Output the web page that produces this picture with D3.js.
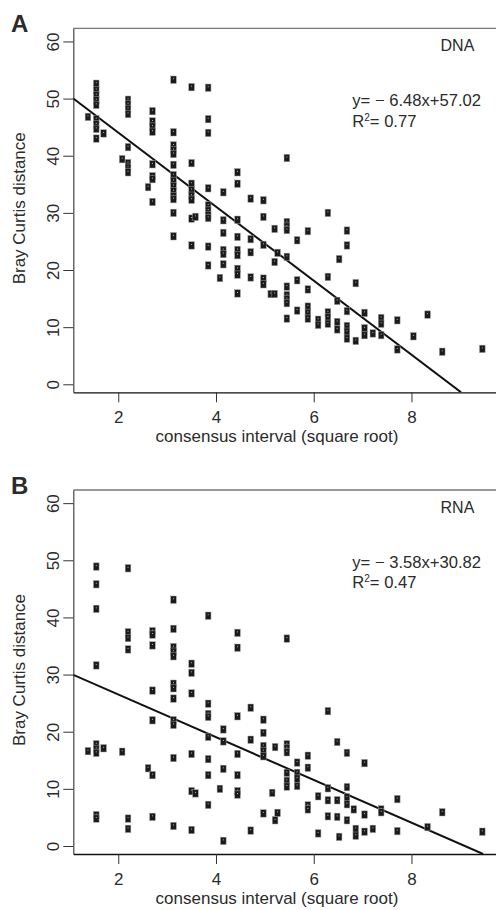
<!DOCTYPE html>
<html>
<head>
<meta charset="utf-8">
<script src="https://cdn.jsdelivr.net/npm/d3@7"></script>
<style>
  body { margin: 0; background: #fff; }
  svg text { font-family: "Liberation Sans", Arial, Helvetica, sans-serif; fill: #2b2b2b; }
</style>
</head>
<body>
<svg id="chart" width="496" height="910"></svg>
<script>
'use strict';

var xTicks = [2, 4, 6, 8];
var yTicks = [0, 10, 20, 30, 40, 50, 60];

// [consensus interval (sqrt), Bray Curtis distance]
var dnaPoints = [
  [1.38, 46.8],
  [1.55, 52.6], [1.55, 51.5], [1.55, 50.6], [1.55, 49.7], [1.55, 48.9], [1.55, 46.4], [1.55, 45.5], [1.55, 44.7], [1.55, 43.0],
  [1.70, 43.9],
  [2.08, 39.4],
  [2.20, 49.8], [2.20, 49.0], [2.20, 48.2], [2.20, 47.3], [2.20, 41.5], [2.20, 38.7], [2.20, 37.9], [2.20, 37.1],
  [2.61, 34.5],
  [2.70, 47.8], [2.70, 46.0], [2.70, 45.1], [2.70, 44.2], [2.70, 38.5], [2.70, 36.4], [2.70, 35.9], [2.70, 31.9],
  [3.13, 53.3], [3.13, 44.1], [3.13, 41.8], [3.13, 41.0], [3.13, 40.3], [3.13, 38.4], [3.13, 36.6], [3.13, 35.6],
  [3.13, 34.7], [3.13, 33.8], [3.13, 32.9], [3.13, 32.4], [3.13, 30.0], [3.13, 25.9],
  [3.50, 52.0], [3.50, 38.7], [3.50, 35.1], [3.50, 34.0], [3.50, 33.0], [3.50, 32.3], [3.50, 29.0], [3.50, 24.3],
  [3.58, 29.3],
  [3.84, 51.9], [3.84, 46.4], [3.84, 44.0], [3.84, 34.3], [3.84, 31.3], [3.84, 30.4], [3.84, 29.6], [3.84, 29.1], [3.84, 24.1], [3.84, 20.8],
  [4.08, 18.6],
  [4.15, 33.6], [4.15, 28.7], [4.15, 26.5], [4.15, 23.5], [4.15, 22.8], [4.15, 21.0],
  [4.44, 37.1], [4.44, 35.1], [4.44, 28.8], [4.44, 25.8], [4.44, 23.5], [4.44, 22.6], [4.44, 20.2], [4.44, 19.2], [4.44, 15.9],
  [4.71, 32.5], [4.71, 25.4], [4.71, 23.1], [4.71, 18.7],
  [4.97, 32.2], [4.97, 29.3], [4.97, 24.4], [4.97, 18.5], [4.97, 17.5],
  [5.12, 15.8],
  [5.20, 27.2], [5.20, 21.4], [5.20, 15.8],
  [5.26, 23.0],
  [5.45, 39.6], [5.45, 28.4], [5.45, 27.6], [5.45, 27.0], [5.45, 22.3], [5.45, 17.1], [5.45, 15.6], [5.45, 14.9], [5.45, 14.2], [5.45, 11.5],
  [5.66, 25.2], [5.66, 18.2], [5.66, 12.9],
  [5.88, 26.8], [5.88, 16.6], [5.88, 13.6], [5.88, 12.5], [5.88, 11.5],
  [6.09, 11.3], [6.09, 10.4],
  [6.29, 30.0], [6.29, 18.8], [6.29, 12.6], [6.29, 11.7], [6.29, 10.6],
  [6.48, 14.6], [6.48, 10.9], [6.48, 9.6],
  [6.52, 21.9],
  [6.68, 26.9], [6.68, 24.3], [6.68, 12.8], [6.68, 10.2], [6.68, 9.2], [6.68, 8.0],
  [6.86, 17.7], [6.86, 7.6],
  [7.04, 12.5], [7.04, 9.8], [7.04, 8.6],
  [7.21, 8.9],
  [7.38, 11.6], [7.38, 10.6], [7.38, 8.6],
  [7.71, 11.2], [7.71, 6.1],
  [8.04, 8.4],
  [8.33, 12.2],
  [8.63, 5.7],
  [9.45, 6.2]
];

var rnaPoints = [
  [1.38, 16.6],
  [1.55, 48.9], [1.55, 45.8], [1.55, 41.5], [1.55, 31.6], [1.55, 17.8], [1.55, 17.0], [1.55, 16.3], [1.55, 5.4], [1.55, 4.8],
  [1.70, 17.1],
  [2.08, 16.5],
  [2.20, 48.6], [2.20, 37.4], [2.20, 36.4], [2.20, 34.4], [2.20, 4.8], [2.20, 3.0],
  [2.61, 13.6],
  [2.70, 37.6], [2.70, 37.0], [2.70, 35.1], [2.70, 27.2], [2.70, 22.0], [2.70, 12.4], [2.70, 5.1],
  [3.13, 43.1], [3.13, 38.0], [3.13, 34.8], [3.13, 34.0], [3.13, 33.2], [3.13, 28.4], [3.13, 27.6], [3.13, 25.8],
  [3.13, 22.0], [3.13, 21.2], [3.13, 15.4], [3.13, 3.5],
  [3.50, 31.9], [3.50, 30.3], [3.50, 26.7], [3.50, 16.1], [3.50, 9.6], [3.50, 2.8],
  [3.58, 9.2],
  [3.84, 40.3], [3.84, 24.9], [3.84, 23.1], [3.84, 22.6], [3.84, 19.1], [3.84, 15.2], [3.84, 12.4], [3.84, 7.2],
  [4.08, 10.0],
  [4.15, 20.4], [4.15, 18.3], [4.15, 13.5], [4.15, 0.9],
  [4.44, 37.3], [4.44, 34.7], [4.44, 22.7], [4.44, 16.1], [4.44, 12.4], [4.44, 9.6], [4.44, 9.0],
  [4.71, 24.2], [4.71, 18.6], [4.71, 2.7],
  [4.97, 22.1], [4.97, 19.8], [4.97, 17.5], [4.97, 16.6], [4.97, 15.7], [4.97, 5.7],
  [5.15, 9.3],
  [5.21, 17.3], [5.21, 4.5],
  [5.26, 5.8],
  [5.45, 36.3], [5.45, 17.8], [5.45, 17.1], [5.45, 16.4], [5.45, 12.8], [5.45, 11.4], [5.45, 10.4],
  [5.66, 14.6], [5.66, 12.8], [5.66, 11.8], [5.66, 10.5],
  [5.88, 15.8], [5.88, 13.7], [5.88, 7.1], [5.88, 6.4],
  [6.09, 8.7], [6.09, 2.2],
  [6.29, 23.6], [6.29, 10.1], [6.29, 8.0], [6.29, 5.2],
  [6.48, 18.2], [6.48, 8.0], [6.48, 5.1],
  [6.52, 1.6],
  [6.68, 16.3], [6.68, 10.3], [6.68, 8.5], [6.68, 7.3], [6.68, 4.5],
  [6.82, 6.4],
  [6.86, 3.0], [6.86, 1.8],
  [7.04, 14.5], [7.04, 5.5], [7.04, 2.5],
  [7.21, 3.0],
  [7.38, 6.4], [7.38, 5.9],
  [7.71, 8.2], [7.71, 2.6],
  [8.33, 3.3],
  [8.63, 5.9],
  [9.45, 2.5]
];

// fitted lines as drawn in the figure
var dnaFit = { slope: -6.48, intercept: 57.02 };
var rnaFit = { slope: -3.74, intercept: 34.0 };

var panels = [
  { letter: 'A', top: 28.3, label: 'DNA', eq: 'y= \u2212 6.48x+57.02', r2: '= 0.77', points: dnaPoints, fit: dnaFit },
  { letter: 'B', top: 490, label: 'RNA', eq: 'y= \u2212 3.58x+30.82', r2: '= 0.47', points: rnaPoints, fit: rnaFit }
];

var svg = d3.select('#chart');

var left = 73.3,
    right = 496,
    plotH = 364;

panels.forEach(function(p, i) {
  drawPanel(p, i);
});

function drawPanel(p, idx) {

  var t = p.top;

  var x = d3.scaleLinear()
        .domain([1.08, 9.73])
        .range([left, right]);

  var y = d3.scaleLinear()
        .domain([-1.4, 62.3])
        .range([t + plotH, t]);

  var g = svg.append('g').attr('class', 'panel');

  // clip for the regression line
  var clipId = 'clip' + idx;
  g.append('clipPath').attr('id', clipId)
    .append('rect')
    .attr('x', left)
    .attr('y', t)
    .attr('width', right - left)
    .attr('height', plotH);

  // top border
  g.append('line')
    .attr('x1', left).attr('x2', right)
    .attr('y1', t).attr('y2', t)
    .attr('stroke', '#777')
    .attr('stroke-width', 1.3);

  // y axis
  var yAxis = g.append('g')
    .attr('transform', 'translate(' + left + ',0)')
    .call(d3.axisLeft(y).tickValues(yTicks).tickSize(10).tickSizeOuter(0));

  yAxis.select('.domain').attr('stroke', '#444').attr('stroke-width', 1.2);
  yAxis.selectAll('.tick line').attr('stroke', '#333');
  yAxis.selectAll('.tick text')
    .attr('transform', 'rotate(-90)')
    .attr('x', 0)
    .attr('y', -14)
    .attr('dy', 0)
    .style('text-anchor', 'middle')
    .style('font-size', '17px')
    .style('font-family', null)
    .attr('fill', '#2b2b2b');

  // x axis
  var xAxis = g.append('g')
    .attr('transform', 'translate(0,' + (t + plotH) + ')')
    .call(d3.axisBottom(x).tickValues(xTicks).tickSize(10).tickSizeOuter(0));

  xAxis.select('.domain').attr('stroke', '#111').attr('stroke-width', 1.3);
  xAxis.selectAll('.tick line').attr('stroke', '#333');
  xAxis.selectAll('.tick text')
    .attr('y', 31)
    .attr('dy', 0)
    .style('font-size', '17px')
    .style('font-family', null)
    .attr('fill', '#2b2b2b');

  // regression line
  var x0 = x.domain()[0],
      x1 = (y.domain()[0] - p.fit.intercept) / p.fit.slope;

  g.append('line')
    .attr('clip-path', 'url(#' + clipId + ')')
    .attr('x1', x(x0))
    .attr('y1', y(p.fit.intercept + p.fit.slope * x0))
    .attr('x2', x(x1))
    .attr('y2', y(p.fit.intercept + p.fit.slope * x1))
    .attr('stroke', '#111')
    .attr('stroke-width', 2);

  // markers
  var marks = g.append('g').selectAll('g')
      .data(p.points)
      .enter().append('g')
      .attr('transform', function(d) {
        return 'translate(' + x(d[0]) + ',' + y(d[1]) + ')';
      });

  marks.append('rect')
    .attr('x', -2.8)
    .attr('y', -3.7)
    .attr('width', 5.6)
    .attr('height', 7.4)
    .attr('fill', '#1b1b1b')
    .attr('stroke', '#9a9a9a')
    .attr('stroke-width', 0.5);

  marks.append('rect')
    .attr('x', -0.5)
    .attr('y', -1.5)
    .attr('width', 1)
    .attr('height', 1)
    .attr('fill', '#bbb');

  // panel letter
  g.append('text')
    .attr('x', 11)
    .attr('y', t + 3.5)
    .style('font-size', '24px')
    .style('font-weight', 'bold')
    .attr('fill', '#111')
    .text(p.letter);

  // axis titles
  g.append('text')
    .attr('transform', 'translate(25,' + (t + 180) + ') rotate(-90)')
    .style('text-anchor', 'middle')
    .style('font-size', '17px')
    .text('Bray Curtis distance');

  g.append('text')
    .attr('x', 277)
    .attr('y', t + 414)
    .style('text-anchor', 'middle')
    .style('font-size', '17px')
    .text('consensus interval (square root)');

  // annotations
  g.append('text')
    .attr('x', 474.3)
    .attr('y', t + 22.5)
    .style('text-anchor', 'end')
    .style('font-size', '16px')
    .text(p.label);

  g.append('text')
    .attr('x', 352.3)
    .attr('y', t + 78)
    .style('font-size', '16.6px')
    .text(p.eq);

  var r2 = g.append('text')
    .attr('x', 352.3)
    .attr('y', t + 98.4)
    .style('font-size', '16.6px');

  r2.append('tspan').text('R');
  r2.append('tspan')
    .attr('dy', -6)
    .style('font-size', '10px')
    .text('2');
  r2.append('tspan')
    .attr('dy', 6)
    .text(p.r2);
}
</script>
</body>
</html>
